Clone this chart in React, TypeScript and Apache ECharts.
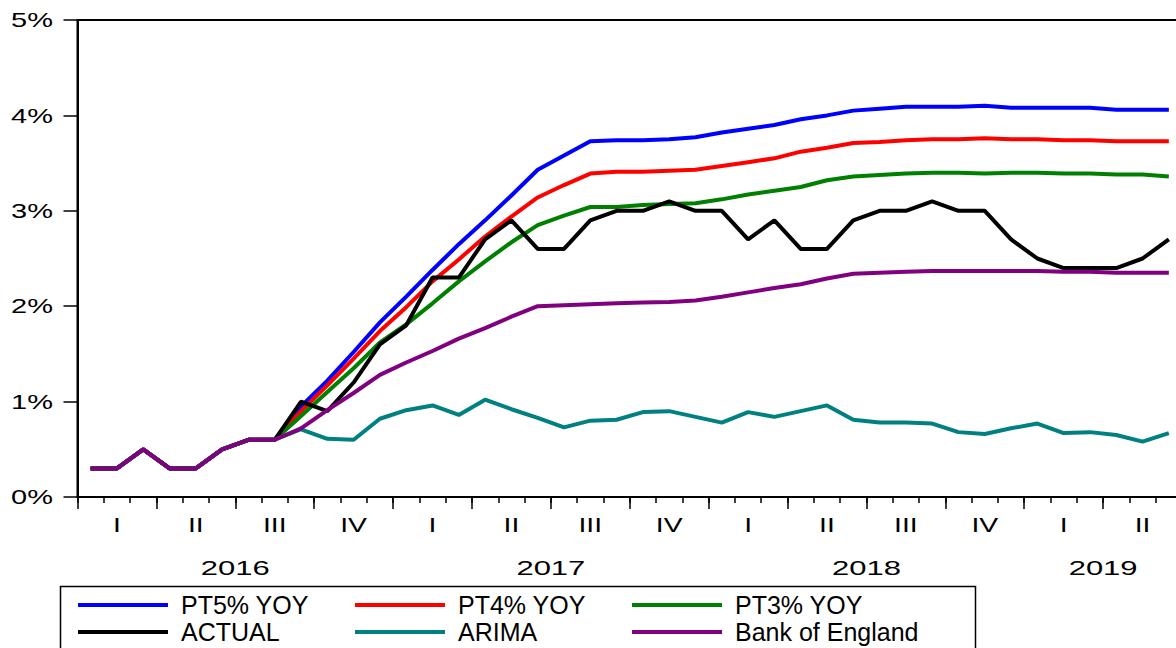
import React, { useEffect, useRef } from "react";
import * as echarts from "echarts";

const months: string[] = [
  "2016M01", "2016M02", "2016M03", "2016M04", "2016M05", "2016M06",
  "2016M07", "2016M08", "2016M09", "2016M10", "2016M11", "2016M12",
  "2017M01", "2017M02", "2017M03", "2017M04", "2017M05", "2017M06",
  "2017M07", "2017M08", "2017M09", "2017M10", "2017M11", "2017M12",
  "2018M01", "2018M02", "2018M03", "2018M04", "2018M05", "2018M06",
  "2018M07", "2018M08", "2018M09", "2018M10", "2018M11", "2018M12",
  "2019M01", "2019M02", "2019M03", "2019M04", "2019M05", "2019M06",
];

const pt5: number[] = [
  0.3, 0.3, 0.5, 0.3, 0.3, 0.5, 0.6, 0.6, 0.95, 1.22, 1.52, 1.83,
  2.1, 2.38, 2.65, 2.9, 3.16, 3.43, 3.58, 3.73, 3.74, 3.74, 3.75, 3.77,
  3.82, 3.86, 3.9, 3.96, 4.0, 4.05, 4.07, 4.09, 4.09, 4.09, 4.1, 4.08,
  4.08, 4.08, 4.08, 4.06, 4.06, 4.06,
];
const pt4: number[] = [
  0.3, 0.3, 0.5, 0.3, 0.3, 0.5, 0.6, 0.6, 0.9, 1.17, 1.45, 1.74,
  1.99, 2.26, 2.49, 2.73, 2.94, 3.14, 3.27, 3.39, 3.41, 3.41, 3.42, 3.43,
  3.47, 3.51, 3.55, 3.62, 3.66, 3.71, 3.72, 3.74, 3.75, 3.75, 3.76, 3.75,
  3.75, 3.74, 3.74, 3.73, 3.73, 3.73,
];
const pt3: number[] = [
  0.3, 0.3, 0.5, 0.3, 0.3, 0.5, 0.6, 0.6, 0.85, 1.1, 1.35, 1.62,
  1.81, 2.03, 2.26, 2.47, 2.67, 2.85, 2.95, 3.04, 3.04, 3.06, 3.07, 3.08,
  3.12, 3.17, 3.21, 3.25, 3.32, 3.36, 3.375, 3.39, 3.4, 3.4, 3.39, 3.4,
  3.4, 3.39, 3.39, 3.38, 3.38, 3.36,
];
const actual: number[] = [
  0.3, 0.3, 0.5, 0.3, 0.3, 0.5, 0.6, 0.6, 1.0, 0.9, 1.2, 1.6,
  1.8, 2.3, 2.3, 2.7, 2.9, 2.6, 2.6, 2.9, 3.0, 3.0, 3.1, 3.0,
  3.0, 2.7, 2.9, 2.6, 2.6, 2.9, 3.0, 3.0, 3.1, 3.0, 3.0, 2.7,
  2.5, 2.4, 2.4, 2.4, 2.5, 2.7,
];
const arima: number[] = [
  0.3, 0.3, 0.5, 0.3, 0.3, 0.5, 0.6, 0.6, 0.71, 0.61, 0.6, 0.82,
  0.91, 0.96, 0.86, 1.02, 0.92, 0.83, 0.73, 0.8, 0.81, 0.89, 0.9, 0.84,
  0.78, 0.89, 0.84, 0.9, 0.96, 0.81, 0.78, 0.78, 0.77, 0.68, 0.66, 0.72,
  0.77, 0.67, 0.68, 0.65, 0.58, 0.67,
];
const boe: number[] = [
  0.3, 0.3, 0.5, 0.3, 0.3, 0.5, 0.6, 0.6, 0.72, 0.91, 1.09, 1.28,
  1.41, 1.53, 1.66, 1.77, 1.89, 2.0, 2.01, 2.02, 2.03, 2.04, 2.045, 2.06,
  2.1, 2.145, 2.19, 2.23, 2.29, 2.34, 2.35, 2.36, 2.37, 2.37, 2.37, 2.37,
  2.37, 2.36, 2.36, 2.35, 2.35, 2.35,
];

const seriesNames: string[] = ["PT5% YOY", "PT4% YOY", "PT3% YOY", "ACTUAL", "ARIMA", "Bank of England"];
const seriesColors: string[] = ["#0000FF", "#FF0000", "#008000", "#000000", "#008080", "#800080"];
const yTicks: number[] = [0, 1, 2, 3, 4, 5];
const yTickLabels: string[] = ["0%", "1%", "2%", "3%", "4%", "5%"];
const quarterLabels: string[] = ["I", "II", "III", "IV"];
const yearLabels: string[] = ["2016", "2017", "2018", "2019"];

const FONT = "'Liberation Sans', Arial, Helvetica, sans-serif";

export default function App() {
  const ref = useRef<HTMLDivElement>(null);

  useEffect(() => {
    if (!ref.current) return;
    const chart = echarts.init(ref.current, null, { renderer: "svg" });
    const data = [pt5, pt4, pt3, actual, arima, boe];

    const legendBase = {
      orient: "vertical",
      itemWidth: 90,
      itemHeight: 4,
      itemGap: 2,
      icon: "rect",
      padding: 0,
      height: 80,
      width: 300,
      selectedMode: false,
      textStyle: {
        fontSize: 25,
        fontFamily: FONT,
        color: "#000",
        lineHeight: 25,
        padding: [0, 0, 0, 8],
      },
    };

    chart.setOption({
      animation: false,
      backgroundColor: "#fff",
      grid: {
        left: 77.5,
        right: 8,
        top: 20,
        bottom: 151,
        show: true,
        borderColor: "#000",
        borderWidth: 2,
        backgroundColor: "transparent",
        containLabel: false,
      },
      legend: [
        { ...legendBase, data: [seriesNames[0], seriesNames[3]], left: 78, top: 592.5 },
        { ...legendBase, data: [seriesNames[1], seriesNames[4]], left: 355, top: 592.5 },
        { ...legendBase, data: [seriesNames[2], seriesNames[5]], left: 632, top: 592.5 },
      ],
      xAxis: [
        {
          type: "category",
          data: months,
          boundaryGap: true,
          position: "bottom",
          axisLine: { show: true, lineStyle: { color: "#000", width: 2 } },
          axisTick: { show: true, interval: 0, length: 6, lineStyle: { color: "#000", width: 1.5 } },
          axisLabel: { show: false },
          splitLine: { show: false },
        },
        {
          type: "category",
          data: months,
          boundaryGap: true,
          position: "bottom",
          offset: 0,
          axisLine: { show: false },
          axisTick: {
            show: true,
            interval: (i: number) => i % 3 === 0,
            length: 12,
            lineStyle: { color: "#000", width: 1.5 },
          },
          axisLabel: { show: false },
          splitLine: { show: false },
        },
      ],
      yAxis: {
        type: "value",
        min: 0,
        max: 5,
        interval: 1,
        axisLine: { show: true, lineStyle: { color: "#000", width: 2 } },
        axisTick: { show: true, inside: false, length: 14, lineStyle: { color: "#000", width: 1.5 } },
        axisLabel: { show: false },
        splitLine: { show: false },
      },
      series: seriesNames.map((name, k) => ({
        name,
        type: "line",
        data: data[k],
        xAxisIndex: 0,
        yAxisIndex: 0,
        symbol: "none",
        showSymbol: false,
        smooth: false,
        color: seriesColors[k],
        lineStyle: { color: seriesColors[k], width: 4 },
        itemStyle: { color: seriesColors[k] },
        z: 2 + k,
      })),
    });

    const px = (i: number) => chart.convertToPixel({ xAxisIndex: 0 }, months[i]) as number;
    const py = (v: number) => chart.convertToPixel({ yAxisIndex: 0 }, v) as number;

    const graphics: any[] = [];
    yTicks.forEach((v, k) => {
      graphics.push({
        type: "text",
        x: 53,
        y: py(v),
        scaleX: 1.45,
        style: {
          text: yTickLabels[k],
          font: `20px ${FONT}`,
          fill: "#000",
          align: "right",
          verticalAlign: "middle",
        },
      });
    });
    for (let q = 0; q < months.length / 3; q++) {
      graphics.push({
        type: "text",
        x: px(3 * q + 1),
        y: 524,
        scaleX: 1.35,
        style: {
          text: quarterLabels[q % 4],
          font: `21px ${FONT}`,
          fill: "#000",
          align: "center",
          verticalAlign: "middle",
        },
      });
    }
    yearLabels.forEach((label, k) => {
      const first = 12 * k;
      const last = Math.min(12 * k + 11, months.length - 1);
      graphics.push({
        type: "text",
        x: (px(first) + px(last)) / 2,
        y: 568,
        scaleX: 1.55,
        style: {
          text: label,
          font: `20px ${FONT}`,
          fill: "#000",
          align: "center",
          verticalAlign: "middle",
        },
      });
    });
    graphics.push({
      type: "rect",
      shape: { x: 60.5, y: 586.5, width: 915, height: 80 },
      style: { fill: "none", stroke: "#000", lineWidth: 1.5 },
      z: 1,
    });

    chart.setOption({ graphic: graphics });

    return () => chart.dispose();
  }, []);

  return (
    <div
      style={{
        position: "fixed",
        left: 0,
        top: 0,
        width: 1176,
        height: 648,
        overflow: "hidden",
        background: "#fff",
      }}
    >
      <div ref={ref} style={{ width: 1190, height: 648 }} />
    </div>
  );
}
